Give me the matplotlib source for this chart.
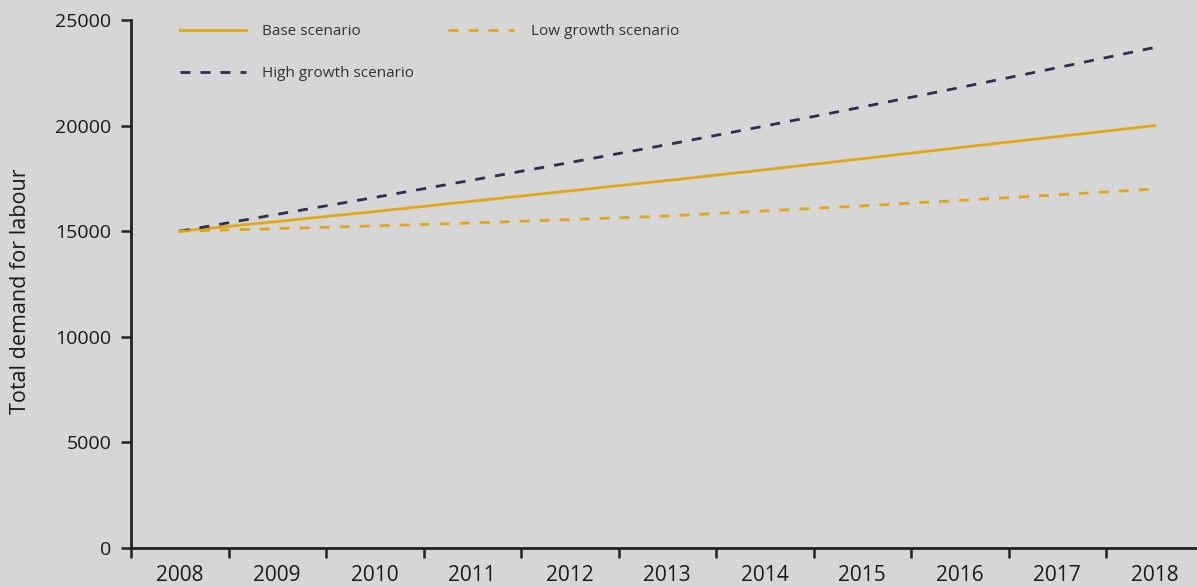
import matplotlib
matplotlib.use("Agg")
import matplotlib.pyplot as plt
from matplotlib.ticker import FixedLocator

years = [2008, 2009, 2010, 2011, 2012, 2013, 2014, 2015, 2016, 2017, 2018]
base = [15000, 15460, 15930, 16420, 16910, 17400, 17910, 18430, 18960, 19480, 20000]
high = [15000, 15800, 16600, 17420, 18250, 19100, 19980, 20880, 21800, 22740, 23700]
low = [15000, 15120, 15250, 15390, 15550, 15720, 15960, 16200, 16460, 16720, 17000]

gold = "#E0A815"
navy = "#2C2E52"
bg = "#D6D6D6"

plt.rcParams['font.family'] = ['Open Sans', 'DejaVu Sans']

fig = plt.figure(figsize=(11.97, 5.87), dpi=100, facecolor=bg)
W, H = 1197, 587
ax = fig.add_axes([131 / W, (H - 548) / H, (W - 131) / W, 528 / H])
ax.set_facecolor(bg)

l_base, = ax.plot(years, base, color=gold, lw=2, label="Base scenario")
l_high, = ax.plot(years, high, color=navy, lw=2, ls=(0, (3.6, 3.6)), label="High growth scenario")
l_low, = ax.plot(years, low, color=gold, lw=2, ls=(0, (3.6, 3.6)), label="Low growth scenario")

ax.set_ylim(0, 25000)
ax.set_xlim(2007.5, 2007.5 + (W - 131) / 97.5)
ax.set_yticks([0, 5000, 10000, 15000, 20000, 25000])
ax.set_xticks(years)
ax.xaxis.set_minor_locator(FixedLocator([y - 0.5 for y in years]))
ax.tick_params(axis="x", which="major", length=0, labelsize=15, pad=12, colors="#1a1a1a")
ax.tick_params(axis="x", which="minor", length=7, width=1.8, color="#222222")
ax.tick_params(axis="y", length=7, width=1.8, color="#222222", labelsize=14, pad=7,
               labelcolor="#1a1a1a")

for s in ["top", "right"]:
    ax.spines[s].set_visible(False)
for s in ["left", "bottom"]:
    ax.spines[s].set_linewidth(2)
    ax.spines[s].set_color("#222222")

ax.set_ylabel("Total demand for labour", fontsize=15.5, color="#1a1a1a")
ax.yaxis.set_label_coords(-0.094, 0.487)

leg = ax.legend(handles=[l_base, l_high, l_low], ncol=2, loc="upper left",
                bbox_to_anchor=(0.0387, 1.006), frameon=False, fontsize=11,
                handlelength=4.3, handletextpad=1.1, columnspacing=2.2,
                labelspacing=1.75, borderpad=0)
for t in leg.get_texts():
    t.set_color("#333333")

fig.savefig("out.png", dpi=100, facecolor=bg)
